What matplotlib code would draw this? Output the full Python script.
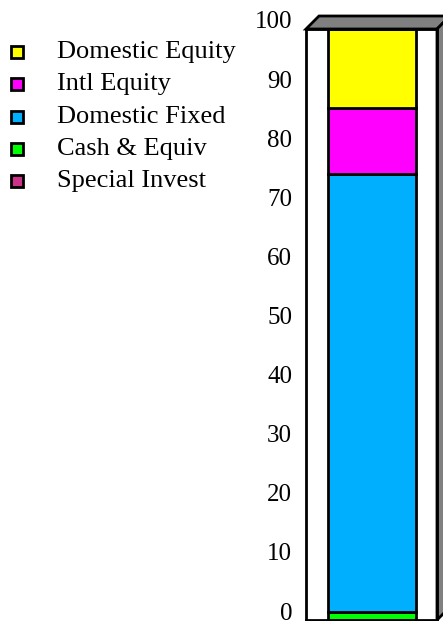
import matplotlib
matplotlib.use("Agg")
import matplotlib.pyplot as plt
from matplotlib.lines import Line2D
from matplotlib.patches import Polygon
from matplotlib.transforms import ScaledTranslation

# asset allocation (percent), stacked bottom -> top
categories = ["Cash & Equiv", "Domestic Fixed", "Intl Equity", "Domestic Equity", "Special Invest"]
values = [1.4, 74.0, 11.2, 13.4, 0.0]
colors = ["#00FF00", "#00B0FF", "#FF00FF", "#FFFF00", "#CC3388"]

legend_order = ["Domestic Equity", "Intl Equity", "Domestic Fixed", "Cash & Equiv", "Special Invest"]
yticks = [0, 10, 20, 30, 40, 50, 60, 70, 80, 90, 100]

W, H = 443, 621
plt.rcParams["font.family"] = ["Liberation Serif", "DejaVu Serif"]

fig = plt.figure(figsize=(W / 100, H / 100), dpi=100)
ax = fig.add_axes([306 / W, 1 / H, 131 / W, 591 / H])
ax.set_xlim(0, 1)
ax.set_ylim(0, 100)

# 3d-ish depth: top face and right side in grey
dx, dy = 13 / 131, 13 / 591 * 100
ax.add_patch(Polygon([(0, 100), (1, 100), (1 + dx, 100 + dy), (dx, 100 + dy)],
                     closed=True, facecolor="#808080", edgecolor="black", lw=2, clip_on=False))
ax.add_patch(Polygon([(1, 100), (1 + dx, 100 + dy), (1 + dx, dy), (1, 0)],
                     closed=True, facecolor="#808080", edgecolor="black", lw=2, clip_on=False))

bottom = 0.0
for cat, v, c in zip(categories, values, colors):
    if v > 0:
        ax.bar(0.504, v, width=0.672, bottom=bottom, color=c, edgecolor="black", linewidth=2)
    bottom += v

for s in ax.spines.values():
    s.set_linewidth(2)
ax.set_xticks([])
ax.set_yticks(yticks)
ax.set_yticklabels([str(t) for t in yticks], fontsize=18)
ax.tick_params(axis="y", length=0, pad=10)
shift = ScaledTranslation(0, 9 / 100, fig.dpi_scale_trans)
for lab in ax.get_yticklabels():
    lab.set_transform(lab.get_transform() + shift)

# legend drawn by hand on the left
cmap = dict(zip(categories, colors))
for i, name in enumerate(legend_order):
    y = 1 - (52 + 32.3 * i) / H
    fig.add_artist(Line2D([17 / W], [y], marker="s", markersize=8.5, markerfacecolor=cmap[name],
                          markeredgecolor="black", markeredgewidth=2, transform=fig.transFigure))
    fig.text(57 / W, y, name, fontsize=19, va="center", ha="left")

fig.savefig("out.png", dpi=100)
